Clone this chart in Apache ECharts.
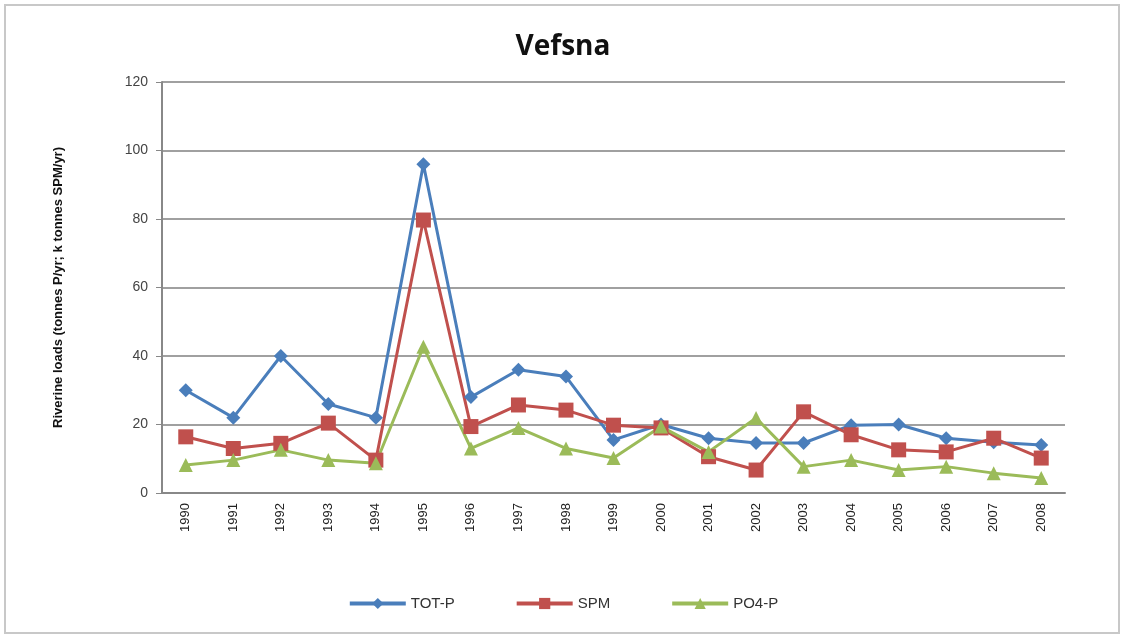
<!DOCTYPE html>
<html>
<head>
<meta charset="UTF-8">
<title>Vefsna</title>
<script src="https://cdn.jsdelivr.net/npm/echarts@6/dist/echarts.min.js"></script>
<style>
  html, body { margin: 0; padding: 0; background: #fff; }
  #main { width: 1126px; height: 640px; }
</style>
</head>
<body>
<div id="main"></div>
<script>
var years = ['1990','1991','1992','1993','1994','1995','1996','1997','1998','1999',
             '2000','2001','2002','2003','2004','2005','2006','2007','2008'];
var totP = [30, 22, 40, 26, 22, 96, 28, 36, 34, 15.5, 20, 16, 14.6, 14.6, 19.8, 20, 16, 14.8, 14];
var spm  = [16.4, 13, 14.5, 20.4, 9.6, 79.7, 19.4, 25.7, 24.2, 19.8, 19, 10.6, 6.7, 23.7, 17, 12.6, 12, 16, 10.2];
var po4P = [8.2, 9.6, 12.6, 9.6, 8.7, 42.7, 13, 19, 13, 10.2, 19.4, 12, 21.9, 7.7, 9.6, 6.7, 7.7, 5.8, 4.4];

var chart = echarts.init(document.getElementById('main'));

function line(name, data, color, symbol, size) {
    return {
        name: name,
        type: 'line',
        data: data,
        symbol: symbol,
        symbolSize: size,
        lineStyle: { color: color, width: 3 },
        itemStyle: { color: color },
        emphasis: { disabled: true }
    };
}

chart.setOption({
    animation: false,
    textStyle: { fontFamily: 'Liberation Sans, Arial, sans-serif' },
    graphic: [{
        type: 'rect',
        shape: { x: 5, y: 5, width: 1114, height: 628 },
        style: { fill: 'none', stroke: '#c8c8c8', lineWidth: 2 },
        silent: true
    }],
    title: {
        text: 'Vefsna',
        left: 'center',
        top: 28,
        textStyle: { fontSize: 28, fontWeight: 'bold', color: '#111', fontFamily: 'Open Sans, sans-serif' }
    },
    legend: {
        bottom: 24,
        left: 'center',
        itemGap: 60,
        itemWidth: 56,
        itemHeight: 14,
        textStyle: { fontSize: 15, color: '#333' },
        lineStyle: { width: 4 },
        data: ['TOT-P', 'SPM', 'PO4-P']
    },
    grid: { left: 162, right: 61, top: 82, bottom: 147 },
    xAxis: {
        type: 'category',
        data: years,
        boundaryGap: true,
        axisLine: { lineStyle: { color: '#888', width: 2 } },
        axisTick: { show: false },
        axisLabel: { rotate: 90, fontSize: 13, color: '#222', margin: 10 }
    },
    yAxis: {
        type: 'value',
        min: 0,
        max: 120,
        interval: 20,
        name: 'Riverine loads (tonnes P/yr; k tonnes SPM/yr)',
        nameLocation: 'middle',
        nameGap: 97,
        nameTextStyle: { fontSize: 13, fontWeight: 'bold', color: '#111' },
        axisLine: { show: true, lineStyle: { color: '#888', width: 2 } },
        axisTick: { show: true, length: 6, lineStyle: { color: '#888' } },
        axisLabel: { fontSize: 14, color: '#444', margin: 14 },
        splitLine: { lineStyle: { color: '#a0a0a0', width: 2 } }
    },
    series: [
        line('TOT-P', totP, '#4a7ebb', 'diamond', 14),
        line('SPM', spm, '#c0504d', 'rect', 15),
        line('PO4-P', po4P, '#9bbb59', 'triangle', 14)
    ]
});
</script>
</body>
</html>
